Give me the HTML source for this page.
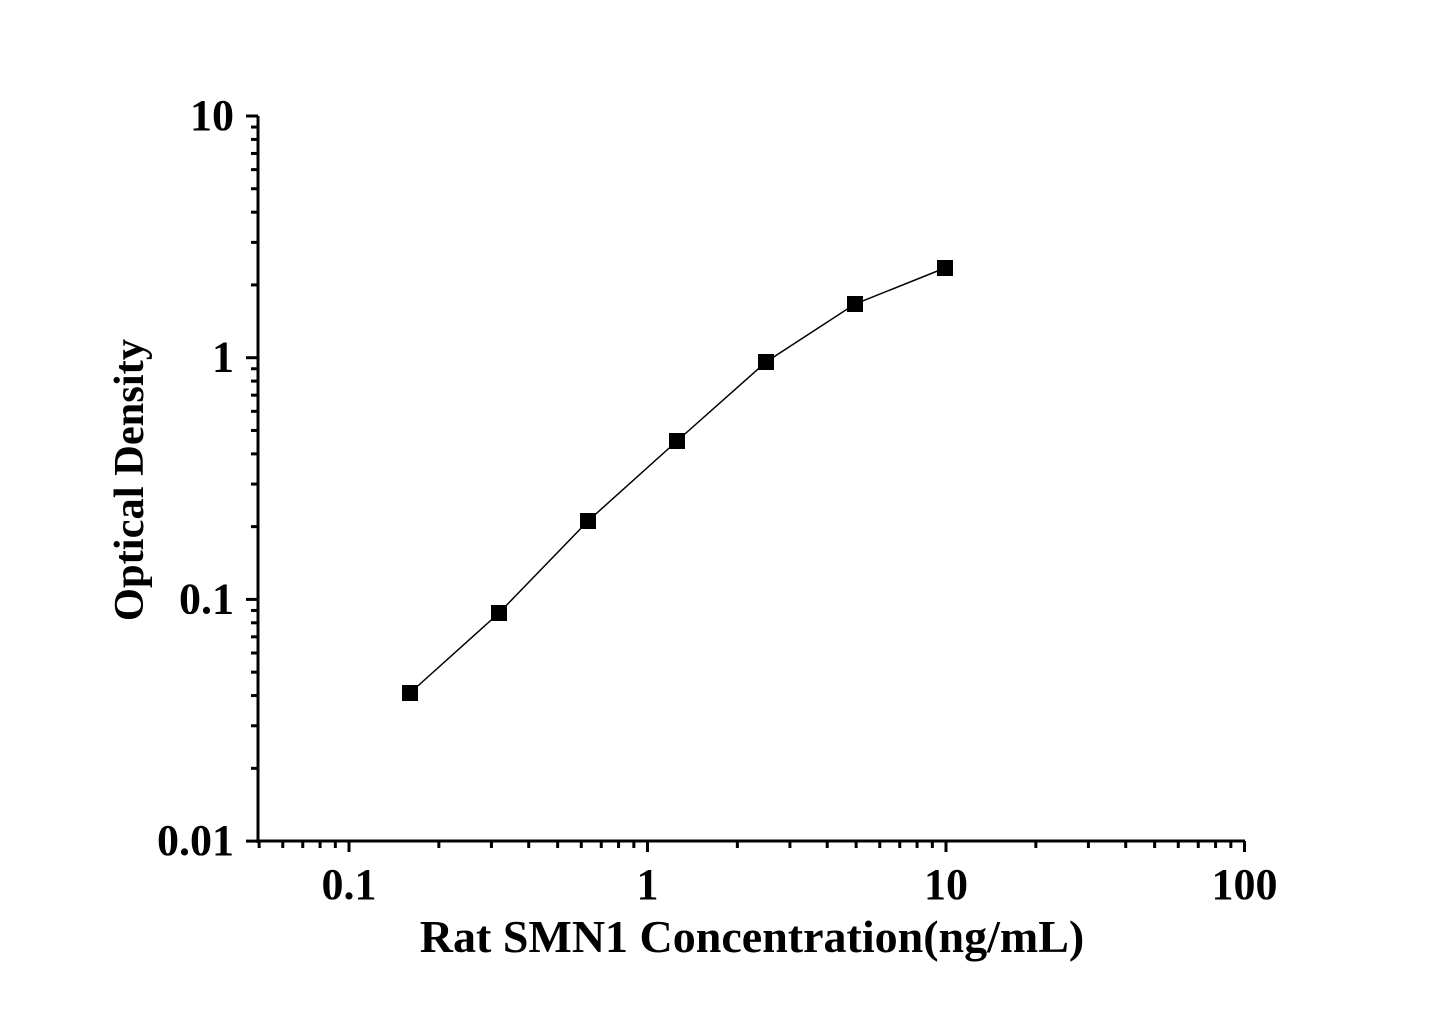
<!DOCTYPE html>
<html><head><style>body{margin:0;background:#fff}</style></head><body>
<svg width="1445" height="1009" xmlns="http://www.w3.org/2000/svg" font-family="Liberation Serif, serif" font-weight="bold">
<rect width="1445" height="1009" fill="#fff"/>
<g stroke="#000" stroke-width="3" fill="none">
<line x1="258" y1="116" x2="258" y2="843"/>
<line x1="256" y1="841" x2="1245" y2="841"/>
</g>
<g id="ticks" stroke="#000" stroke-width="3"></g>
<g id="labels" font-size="44" text-anchor="middle"></g>
<polyline points="410,693 499,613 588,521 677,441 766,362 855,304 945,268" fill="none" stroke="#000" stroke-width="1.5"/>
<g fill="#000">
<rect x="402" y="685" width="16" height="16"/>
<rect x="491" y="605" width="16" height="16"/>
<rect x="580" y="513" width="16" height="16"/>
<rect x="669" y="433" width="16" height="16"/>
<rect x="758" y="354" width="16" height="16"/>
<rect x="847" y="296" width="16" height="16"/>
<rect x="937" y="260" width="16" height="16"/>
</g>
<text x="752" y="952" font-size="46" text-anchor="middle">Rat SMN1 Concentration(ng/mL)</text>
<text transform="translate(143,480) rotate(-90)" font-size="42.5" text-anchor="middle">Optical Density</text>
<script>
var ns="http://www.w3.org/2000/svg",T=document.getElementById("ticks"),L=document.getElementById("labels");
function ln(a,b,c,d){var e=document.createElementNS(ns,"line");e.setAttribute("x1",a);e.setAttribute("y1",b);e.setAttribute("x2",c);e.setAttribute("y2",d);T.appendChild(e);}
function tx(x,y,s,anc){var e=document.createElementNS(ns,"text");e.setAttribute("x",x);e.setAttribute("y",y);e.textContent=s;if(anc)e.setAttribute("text-anchor",anc);L.appendChild(e);}
var xd=298.5,x0=349;
function X(v){return x0+Math.log10(v/0.1)*xd;}
for(var d=-2;d<=1;d++){for(var m=1;m<10;m++){var v=Math.pow(10,d)*m;if(v<0.05||v>100)continue;var x=X(v);ln(x,841,x,m==1?852:848);}}
ln(X(100),841,X(100),852);
["0.1","1","10","100"].forEach(function(s,i){tx(X(Math.pow(10,i-1)),899,s);});
var yd=241.7,y0=116;
function Y(v){return y0+Math.log10(10/v)*yd;}
for(var d=-2;d<=0;d++){for(var m=1;m<10;m++){var v=Math.pow(10,d)*m;var y=Y(v);ln(258,y,m==1?246:251,y);}}
ln(258,Y(10),246,Y(10));
["10","1","0.1","0.01"].forEach(function(s,i){tx(234,Y(Math.pow(10,1-i))+14,s,"end");});
</script>
</svg>
</body></html>
